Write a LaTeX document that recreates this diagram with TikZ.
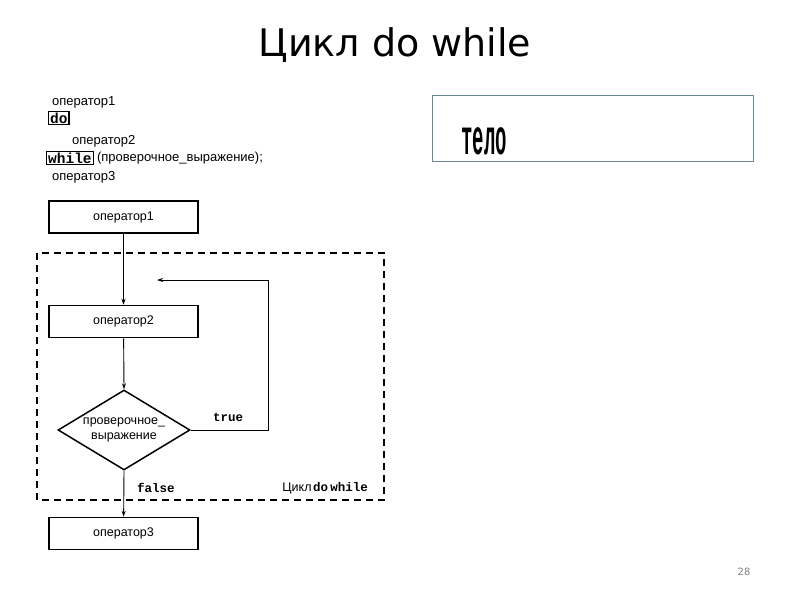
\documentclass[tikz,border=0pt]{standalone}
\usepackage{fontspec}
\setmainfont{DejaVu Sans}
\newfontfamily\lsans{Liberation Sans}
\newfontfamily\lmonob{Liberation Mono Bold}
\usetikzlibrary{shapes.geometric,arrows.meta}
\definecolor{frameblue}{HTML}{6A8797}
\begin{document}
\begin{tikzpicture}[x=1pt,y=-1pt,
  opbox/.style={draw,line width=1.5pt,minimum width=149pt,minimum height=32pt,inner sep=0pt,font=\lsans\fontsize{12.5}{14}\selectfont},
  code/.style={anchor=west,inner sep=0pt,font=\lsans\fontsize{13}{14}\selectfont},
  kw/.style={draw,line width=1.3pt,inner sep=1.5pt,font=\lmonob\fontsize{14.5}{15}\selectfont},
  lbl/.style={inner sep=0pt,font=\lmonob\fontsize{12.5}{14}\selectfont},
  flow/.style={line width=0.9pt,-{Stealth[length=6pt,width=4pt]}}]
\useasboundingbox (0,0) rectangle (800,600);
\node[font=\fontsize{38}{42}\selectfont] (title) at (395,45) {Цикл do while};
% code listing
\node[code] (c1) at (52,102) {оператор1};
\node[kw,anchor=west] (c2) at (48,118) {do};
\node[code] (c3) at (72,141) {оператор2};
\node[kw,anchor=west] (c4) at (46,158) {while};
\node[code,anchor=west] (c4b) at ([xshift=3pt]c4.east) {(проверочное\_выражение);};
\node[code] (c5) at (52,177) {оператор3};
% body box
\node[draw=frameblue,line width=0.8pt,minimum width=321pt,minimum height=66pt,inner sep=0pt] (body) at (592.5,128) {};
\node[inner sep=0pt,font=\lmonob\fontsize{50}{52}\selectfont,xscale=0.38] (telo) at (484,141) {тело};
% flowchart
\node[opbox] (op1) at (123.5,217) {оператор1};
\node[opbox] (op2) at (123.5,321.5) {оператор2};
\node[opbox] (op3) at (123.5,533.5) {оператор3};
\node[draw,line width=1.5pt,diamond,aspect=1.65,minimum width=132pt,minimum height=80pt,inner sep=0pt,align=center,font=\lsans\fontsize{12.5}{15}\selectfont] (cond) at (124,430) {проверочное\_\\выражение};
\draw[line width=1.2pt,dash pattern=on 7pt off 5pt] (37,253) rectangle (384,500);
\coordinate (tr) at (268,430);
\coordinate (tt) at (268,280);
\coordinate (ret) at (157,280);
\draw[flow] (op1) -- (op2);
\draw[flow] (op2) -- (cond.north);
\draw[flow] (cond.east) -- (tr) -- (tt) -- (ret);
\draw[flow] (cond.south) -- (op3);
\node[lbl] (ltrue) at (228,417) {true};
\node[lbl] (lfalse) at (156,488) {false};
\node[anchor=east,inner sep=0pt] (lloop) at (368,488) {{\lsans\fontsize{12.5}{14}\selectfont Цикл}\,{\lmonob\fontsize{12.5}{14}\selectfont do\,while}};
\node[text=gray,font=\fontsize{10}{12}\selectfont] (pg) at (744,572) {28};
\end{tikzpicture}
\end{document}
